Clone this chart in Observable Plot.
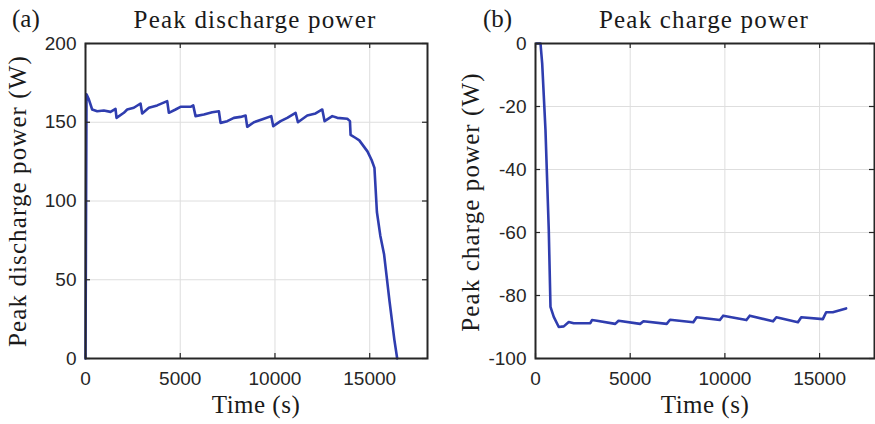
<!DOCTYPE html>
<html>
<head>
<meta charset="utf-8">
<script src="https://cdn.jsdelivr.net/npm/d3@7"></script>
<script src="https://cdn.jsdelivr.net/npm/@observablehq/plot@0.6"></script>
<style>
  html, body { margin: 0; padding: 0; background: #fff; }
  #wrap { position: relative; width: 875px; height: 424px; overflow: hidden; background: #fff; }
  .panel { position: absolute; top: 0; }
  .t { position: absolute; font-family: "Liberation Serif", "Times New Roman", serif; font-size: 25px; line-height: 1; color: #1a1a1a; white-space: nowrap; }
</style>
</head>
<body>
<div id="wrap">
  <div id="pa" class="panel" style="left:0px"></div>
  <div id="pb" class="panel" style="left:437px"></div>
  <div class="t" style="left:12px; top:6px;">(a)</div>
  <div class="t" style="left:255px; top:7px; transform:translateX(-50%); letter-spacing:1.2px;">Peak discharge power</div>
  <div class="t" style="left:256px; top:392px; transform:translateX(-50%); letter-spacing:0.5px;">Time (s)</div>
  <div class="t" style="left:17px; top:201px; transform:translate(-50%,-50%) rotate(-90deg); letter-spacing:1.1px;">Peak discharge power (W)</div>
  <div class="t" style="left:483px; top:6px;">(b)</div>
  <div class="t" style="left:704px; top:7px; transform:translateX(-50%); letter-spacing:1.2px;">Peak charge power</div>
  <div class="t" style="left:705px; top:392px; transform:translateX(-50%); letter-spacing:0.5px;">Time (s)</div>
  <div class="t" style="left:470px; top:202px; transform:translate(-50%,-50%) rotate(-90deg); letter-spacing:1.1px;">Peak charge power (W)</div>
</div>
<script>
// ---- Data: (a) peak discharge power ----
const dischargeTime = [0, 53, 176, 352, 616, 968, 1320, 1584, 1637, 2024, 2200, 2552, 2904, 2992, 3344, 3784, 4312, 4400, 4752, 5016, 5544, 5685, 5808, 6248, 6688, 7040, 7128, 7480, 7832, 8184, 8448, 8536, 8888, 9416, 9803, 9909, 10296, 10648, 11088, 11211, 11704, 12144, 12496, 12619, 13024, 13288, 13816, 13957, 13990, 14260, 14450, 14880, 15100, 15250, 15380, 15560, 15760, 16050, 16300, 16450];
const dischargePower = [0, 167.7, 164.5, 158.1, 157.0, 157.5, 156.6, 158.5, 152.8, 156.0, 158.1, 159.2, 161.9, 155.6, 159.2, 160.7, 163.4, 156.0, 158.1, 159.8, 159.8, 160.7, 153.9, 154.9, 156.4, 157.0, 149.6, 150.7, 152.8, 153.4, 154.3, 147.1, 150.0, 152.2, 153.9, 147.5, 150.7, 152.8, 156.0, 150.0, 154.3, 155.6, 158.1, 150.7, 153.9, 152.8, 152.2, 150.7, 142.0, 140.0, 138.5, 131.5, 126.0, 121.0, 93.0, 78.0, 66.0, 36.0, 12.0, 0];

// ---- Data: (b) peak charge power ----
const chargeTime = [50, 264, 353, 527, 701, 791, 965, 1229, 1493, 1756, 2017, 2894, 2982, 3245, 4210, 4385, 5525, 5700, 6928, 7104, 8332, 8507, 9735, 9910, 11138, 11313, 12541, 12717, 13857, 14032, 15172, 15347, 15698, 16400];
const chargePower = [0, 0, -6.3, -27.5, -59.3, -83.6, -86.8, -90.0, -89.8, -88.4, -88.8, -88.8, -87.8, -88.0, -89.0, -88.0, -89.0, -88.2, -89.0, -87.7, -88.5, -86.9, -87.8, -86.4, -87.8, -86.4, -88.2, -86.9, -88.5, -86.9, -87.5, -85.3, -85.3, -84.1];

// ---- Tick labels ----
const xTicks = [0, 5000, 10000, 15000];
const yTicksA = [0, 50, 100, 150, 200];
const yTicksB = [-100, -80, -60, -40, -20, 0];

const LINE = "#2f3daf";
const FRAME = "#262626";
const GRID = "#dedede";

function panel({times, values, xMax, yDomain, yTicks, width, ml, mr}) {
  const mt = 43, mb = 66, H = 424;
  const data = times.map((t, i) => ({t, v: values[i]}));
  const plotW = width - ml - mr, plotH = H - mt - mb;
  const tl = 5; // inward tick length in px
  const ky = (yDomain[1] - yDomain[0]) / plotH;
  const kx = xMax / plotW;
  const [y0, y1] = yDomain;
  return Plot.plot({
    width, height: H,
    marginTop: mt, marginBottom: mb, marginLeft: ml, marginRight: mr,
    x: {domain: [0, xMax]},
    y: {domain: yDomain},
    style: {fontFamily: "'Liberation Sans', Arial, sans-serif", fontSize: "19px", color: "#262626", background: "transparent", overflow: "visible"},
    marks: [
      Plot.gridX(xTicks, {stroke: GRID, strokeOpacity: 1, strokeWidth: 1}),
      Plot.gridY(yTicks, {stroke: GRID, strokeOpacity: 1, strokeWidth: 1}),
      Plot.line(data, {x: "t", y: "v", stroke: LINE, strokeWidth: 2.6, strokeLinejoin: "round"}),
      Plot.ruleX(xTicks, {x: d => d, y1: y0, y2: y0 + tl * ky, stroke: FRAME, strokeWidth: 1.2}),
      Plot.ruleX(xTicks, {x: d => d, y1: y1, y2: y1 - tl * ky, stroke: FRAME, strokeWidth: 1.2}),
      Plot.ruleY(yTicks, {y: d => d, x1: 0, x2: tl * kx, stroke: FRAME, strokeWidth: 1.2}),
      Plot.ruleY(yTicks, {y: d => d, x1: xMax, x2: xMax - tl * kx, stroke: FRAME, strokeWidth: 1.2}),
      Plot.frame({stroke: FRAME, strokeWidth: 2}),
      Plot.axisX(xTicks, {tickSize: 0, tickPadding: 13, tickFormat: d => String(d), label: null}),
      Plot.axisY(yTicks, {tickSize: 0, tickPadding: 9, tickFormat: d => String(d), label: null})
    ]
  });
}

document.getElementById("pa").appendChild(panel({
  times: dischargeTime, values: dischargePower, xMax: 18050,
  yDomain: [0, 200], yTicks: yTicksA, width: 437, ml: 85, mr: 10
}));
document.getElementById("pb").appendChild(panel({
  times: chargeTime, values: chargePower, xMax: 17900,
  yDomain: [-100, 0], yTicks: yTicksB, width: 438, ml: 98, mr: 1
}));
</script>
</body>
</html>
